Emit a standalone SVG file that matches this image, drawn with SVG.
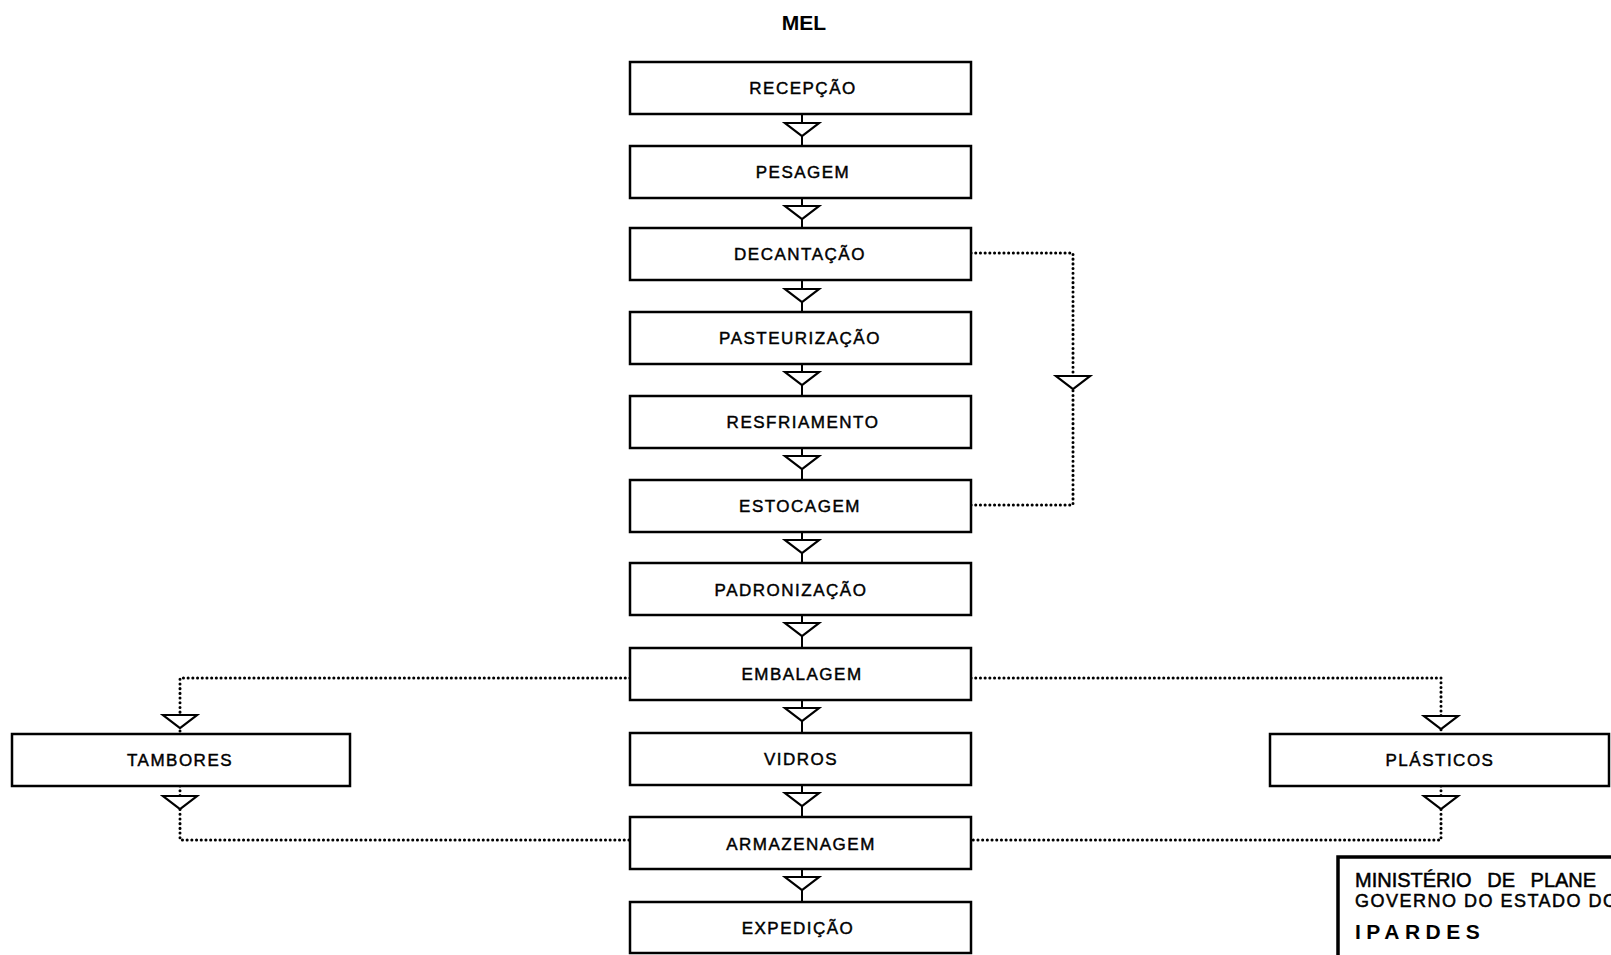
<svg xmlns="http://www.w3.org/2000/svg" width="1611" height="955" viewBox="0 0 1611 955">
<style>
.box{fill:#fff;stroke:#000;stroke-width:2.5}
.lbl{font-family:"Liberation Sans",Arial,sans-serif;font-size:17px;letter-spacing:1.5px;text-anchor:middle;fill:#000;stroke:#000;stroke-width:0.45}
.stem{stroke:#000;stroke-width:2;fill:none}
.dot{stroke:#000;stroke-width:3;fill:none;stroke-dasharray:0.1 4.6;stroke-linecap:round}
.tri{fill:#fff;stroke:#000;stroke-width:2.2;stroke-linejoin:miter}
.hdr{font-family:"Liberation Sans",Arial,sans-serif;font-weight:bold;fill:#000}
.stp{font-family:"Liberation Sans",Arial,sans-serif;fill:#000;stroke:#000;stroke-width:0.5}
</style>
<defs>
<path id="tri" class="tri" d="M-17,0 L17,0 L0,13 Z"/>
</defs>
<rect width="1611" height="955" fill="#fff"/>
<text class="hdr" x="804" y="30" font-size="21" text-anchor="middle">MEL</text>

<g id="connectors">
  <line class="stem" x1="802" y1="114" x2="802" y2="146"/>
  <line class="stem" x1="802" y1="198" x2="802" y2="228"/>
  <line class="stem" x1="802" y1="280" x2="802" y2="312"/>
  <line class="stem" x1="802" y1="364" x2="802" y2="396"/>
  <line class="stem" x1="802" y1="448" x2="802" y2="480"/>
  <line class="stem" x1="802" y1="532" x2="802" y2="563"/>
  <line class="stem" x1="802" y1="615" x2="802" y2="648"/>
  <line class="stem" x1="802" y1="700" x2="802" y2="733"/>
  <line class="stem" x1="802" y1="785" x2="802" y2="817"/>
  <line class="stem" x1="802" y1="869" x2="802" y2="902"/>
  <use href="#tri" x="802" y="123"/>
  <use href="#tri" x="802" y="206"/>
  <use href="#tri" x="802" y="289"/>
  <use href="#tri" x="802" y="372"/>
  <use href="#tri" x="802" y="456"/>
  <use href="#tri" x="802" y="540"/>
  <use href="#tri" x="802" y="623"/>
  <use href="#tri" x="802" y="708"/>
  <use href="#tri" x="802" y="793"/>
  <use href="#tri" x="802" y="877"/>
  <!-- decantacao loop -->
  <polyline class="dot" points="971,253 1073,253 1073,505 971,505"/>
  <use href="#tri" x="1073" y="376"/>
  <!-- embalagem branches -->
  <polyline class="dot" points="630,678 180,678 180,734"/>
  <use href="#tri" x="180" y="715"/>
  <polyline class="dot" points="971,678 1441,678 1441,734"/>
  <use href="#tri" x="1441" y="716"/>
  <!-- to armazenagem -->
  <polyline class="dot" points="180,786 180,840 630,840"/>
  <use href="#tri" x="180" y="796"/>
  <polyline class="dot" points="1441,786 1441,840 971,840"/>
  <use href="#tri" x="1441" y="796"/>
</g>

<g id="n-recepcao"><rect class="box" x="630" y="62" width="341" height="52"/><text class="lbl" x="803" y="94">RECEPÇÃO</text></g>
<g id="n-pesagem"><rect class="box" x="630" y="146" width="341" height="52"/><text class="lbl" x="803" y="178">PESAGEM</text></g>
<g id="n-decantacao"><rect class="box" x="630" y="228" width="341" height="52"/><text class="lbl" x="800" y="260">DECANTAÇÃO</text></g>
<g id="n-pasteurizacao"><rect class="box" x="630" y="312" width="341" height="52"/><text class="lbl" x="800" y="344">PASTEURIZAÇÃO</text></g>
<g id="n-resfriamento"><rect class="box" x="630" y="396" width="341" height="52"/><text class="lbl" x="803" y="428">RESFRIAMENTO</text></g>
<g id="n-estocagem"><rect class="box" x="630" y="480" width="341" height="52"/><text class="lbl" x="800" y="512">ESTOCAGEM</text></g>
<g id="n-padronizacao"><rect class="box" x="630" y="563" width="341" height="52"/><text class="lbl" x="791" y="596">PADRONIZAÇÃO</text></g>
<g id="n-embalagem"><rect class="box" x="630" y="648" width="341" height="52"/><text class="lbl" x="802" y="680">EMBALAGEM</text></g>
<g id="n-vidros"><rect class="box" x="630" y="733" width="341" height="52"/><text class="lbl" x="801" y="765">VIDROS</text></g>
<g id="n-armazenagem"><rect class="box" x="630" y="817" width="341" height="52"/><text class="lbl" x="801" y="850">ARMAZENAGEM</text></g>
<g id="n-expedicao"><rect class="box" x="630" y="902" width="341" height="51"/><text class="lbl" x="798" y="934">EXPEDIÇÃO</text></g>
<g id="n-tambores"><rect class="box" x="12" y="734" width="338" height="52"/><text class="lbl" x="180" y="766">TAMBORES</text></g>
<g id="n-plasticos"><rect class="box" x="1270" y="734" width="339" height="52"/><text class="lbl" x="1440" y="766">PLÁSTICOS</text></g>

<g id="stamp">
  <rect x="1338" y="857" width="290" height="110" fill="#fff" stroke="#000" stroke-width="3.5"/>
  <text class="stp" x="1355" y="887" font-size="20" style="word-spacing:10px">MINISTÉRIO DE PLANE</text>
  <text class="stp" x="1355" y="907" font-size="18" textLength="262" lengthAdjust="spacing">GOVERNO DO ESTADO DO</text>
  <text class="hdr" x="1355" y="939" font-size="21" style="letter-spacing:5.5px">IPARDES</text>
</g>
</svg>
